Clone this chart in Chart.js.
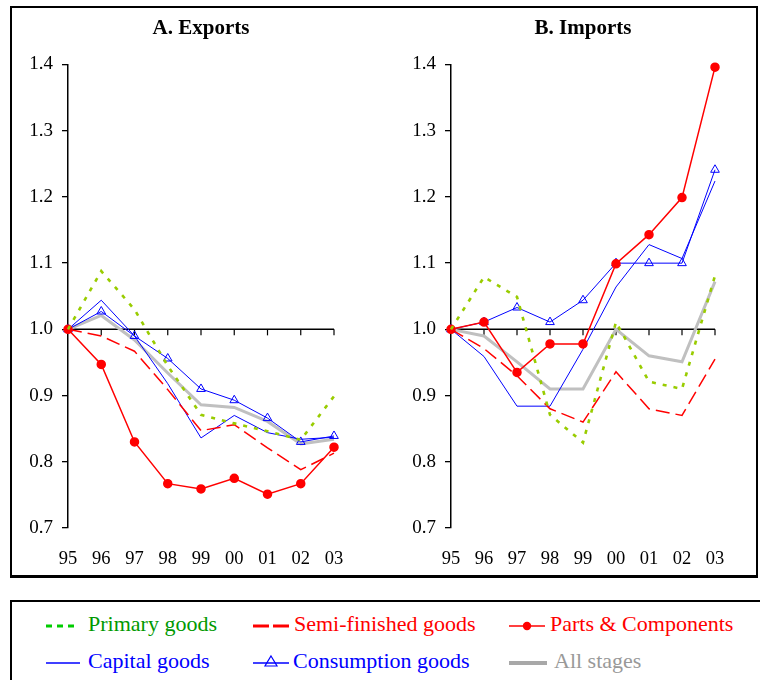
<!DOCTYPE html>
<html><head><meta charset="utf-8">
<script src="https://cdn.jsdelivr.net/npm/chart.js@4"></script>
<style>
html,body{margin:0;padding:0;background:#fff}
body{width:760px;height:680px;overflow:hidden;position:relative;font-family:"Liberation Serif","Times New Roman",serif}
#frame{position:absolute;left:10px;top:6px;width:748px;height:572px;box-sizing:border-box;border:2px solid #000;border-bottom:3px solid #000}
canvas{position:absolute;top:8px}
#cExp{left:12px}
#cImp{left:383px}
#legend{position:absolute;left:10px;top:600px;width:760px;height:100px;box-sizing:border-box;border-top:2px solid #000;border-left:2px solid #000}
.sym{position:absolute}
.lbl{position:absolute;font-size:22px;line-height:26px;white-space:nowrap}
</style></head>
<body>
<div id="frame"></div>
<canvas id="cExp" width="371" height="566"></canvas>
<canvas id="cImp" width="371" height="566"></canvas>
<div id="legend"></div>
<script>
// ---- data ----
const years = ['95','96','97','98','99','00','01','02','03'];
const seriesNames = ['Primary goods','Semi-finished goods','Parts & Components','Capital goods','Consumption goods','All stages'];
const yMin = 0.7, yMax = 1.4, yStep = 0.1, baseValue = 1.0;

const expPrimary     = [1.00, 1.088, 1.03, 0.945, 0.871, 0.858, 0.846, 0.833, 0.899];
const expSemi        = [1.00, 0.990, 0.967, 0.909, 0.847, 0.856, 0.821, 0.788, 0.813];
const expParts       = [1.00, 0.947, 0.830, 0.767, 0.759, 0.775, 0.751, 0.767, 0.822];
const expCapital     = [1.00, 1.044, 0.990, 0.918, 0.836, 0.870, 0.844, 0.834, 0.837];
const expConsumption = [1.00, 1.027, 0.990, 0.956, 0.910, 0.893, 0.866, 0.830, 0.839];
const expAll         = [1.00, 1.021, 0.984, 0.934, 0.886, 0.882, 0.861, 0.827, 0.834];

const impPrimary     = [1.00, 1.079, 1.049, 0.871, 0.829, 1.011, 0.921, 0.910, 1.081];
const impSemi        = [1.00, 0.971, 0.930, 0.880, 0.860, 0.936, 0.880, 0.870, 0.955];
const impParts       = [1.00, 1.011, 0.935, 0.978, 0.978, 1.099, 1.143, 1.199, 1.396];
const impCapital     = [1.00, 0.959, 0.884, 0.884, 0.970, 1.064, 1.128, 1.107, 1.224];
const impConsumption = [1.00, 1.011, 1.033, 1.011, 1.044, 1.100, 1.100, 1.100, 1.241];
const impAll         = [1.00, 0.990, 0.951, 0.910, 0.910, 1.000, 0.960, 0.951, 1.072];

// ---- styles ----
const styles = [
  {borderColor:'#99cc00', borderWidth:2.6, borderDash:[4,7], pointRadius:0},
  {borderColor:'#ff0000', borderWidth:1.5, borderDash:[14,6], pointRadius:0},
  {borderColor:'#ff0000', borderWidth:1.5, pointRadius:4, pointStyle:'circle', pointBackgroundColor:'#ff0000', pointBorderColor:'#ff0000'},
  {borderColor:'#0000ff', borderWidth:1, pointRadius:0},
  {borderColor:'#0000ff', borderWidth:1, pointRadius:5, pointStyle:'triangle', pointBackgroundColor:'rgba(0,0,0,0)', pointBorderColor:'#0000ff', pointBorderWidth:1},
  {borderColor:'#c0c0c0', borderWidth:3, pointRadius:0}
];

const baseLinePlugin = {
  id:'baseLine',
  beforeDatasetsDraw(chart){
    const xs = chart.scales.x, ys = chart.scales.y, ctx = chart.ctx;
    const y = ys.getPixelForValue(baseValue);
    const x0 = xs.getPixelForValue(0), x1 = xs.getPixelForValue(years.length-1);
    ctx.save();
    ctx.strokeStyle = '#000'; ctx.lineWidth = 1.5;
    ctx.beginPath(); ctx.moveTo(x0, y); ctx.lineTo(x1, y); ctx.stroke();
    ctx.lineWidth = 1.2;
    for (let i = 1; i < years.length; i++) {
      const x = xs.getPixelForValue(i);
      ctx.beginPath(); ctx.moveTo(x, y); ctx.lineTo(x, y + 6); ctx.stroke();
    }
    ctx.restore();
  }
};

function makeChart(id, title, seriesData, padL, padR) {
  const datasets = seriesData.map((d, i) => Object.assign({
    label: seriesNames[i], data: d, tension: 0, fill: false, clip: false
  }, styles[i]));
  return new Chart(document.getElementById(id), {
    type: 'line',
    data: { labels: years, datasets },
    plugins: [baseLinePlugin],
    options: {
      responsive: false, animation: false, devicePixelRatio: 1,
      layout: { padding: { left: padL, right: padR, top: 0, bottom: 0 } },
      plugins: {
        legend: { display: false }, tooltip: { enabled: false },
        title: { display: true, text: title, fullSize: false, color: '#000',
          font: { family: 'Liberation Serif', size: 21, weight: 'bold' },
          padding: { top: 8.4, bottom: 22.9 } }
      },
      scales: {
        x: { type: 'category', offset: false,
          grid: { display: false }, border: { display: false },
          ticks: { color: '#000', padding: 12, maxRotation: 0, autoSkip: false,
            font: { family: 'Liberation Serif', size: 18.5 } },
          afterFit: s => { s.height = 46; } },
        y: { min: yMin, max: yMax,
          border: { display: true, color: '#000', width: 1.5 },
          grid: { drawOnChartArea: false, drawTicks: true, tickLength: 6, color: '#000', lineWidth: 1.3 },
          ticks: { stepSize: yStep, color: '#000', padding: 9,
            font: { family: 'Liberation Serif', size: 19 },
            callback: v => Number(v).toFixed(1) },
          afterFit: s => { s.width = 50; } }
      }
    }
  });
}

makeChart('cExp', 'A. Exports', [expPrimary, expSemi, expParts, expCapital, expConsumption, expAll], 6, 49);
makeChart('cImp', 'B. Imports', [impPrimary, impSemi, impParts, impCapital, impConsumption, impAll], 18, 39);

// ---- legend ----
const legendColors = ['#009900','#ff0000','#ff0000','#0000ff','#0000ff','#999999'];
const legendPos = [
  {sx:44, tx:86, cy:624}, {sx:251, tx:292, cy:624}, {sx:507, tx:548, cy:624},
  {sx:44, tx:86, cy:661}, {sx:251, tx:291, cy:661}, {sx:507, tx:552, cy:661}
];
const symSvg = [
  '<line x1="0" y1="10" x2="30" y2="10" stroke="#00cc00" stroke-width="3" stroke-dasharray="6,5"/>',
  '<line x1="0" y1="10" x2="36" y2="10" stroke="#ff0000" stroke-width="3" stroke-dasharray="16,4"/>',
  '<line x1="0" y1="10" x2="36" y2="10" stroke="#ff0000" stroke-width="1.3"/><circle cx="18" cy="10" r="4.2" fill="#ff0000"/>',
  '<line x1="0" y1="10" x2="34" y2="10" stroke="#0000ff" stroke-width="1.3"/>',
  '<line x1="0" y1="10" x2="36" y2="10" stroke="#0000ff" stroke-width="1.3"/><polygon points="18,3 24,13 12,13" fill="none" stroke="#0000ff" stroke-width="1.2"/>',
  '<line x1="0" y1="10" x2="38" y2="10" stroke="#a8a8a8" stroke-width="4"/>'
];
const lg = document.getElementById('legend');
seriesNames.forEach((name, i) => {
  const p = legendPos[i];
  const s = document.createElement('div');
  s.className = 'sym';
  s.style.left = (p.sx - 10) + 'px'; s.style.top = (p.cy - 600 - 10) + 'px';
  s.innerHTML = '<svg width="40" height="20" xmlns="http://www.w3.org/2000/svg">' + symSvg[i] + '</svg>';
  lg.appendChild(s);
  const t = document.createElement('div');
  t.className = 'lbl';
  t.style.left = (p.tx - 10) + 'px'; t.style.top = (p.cy - 600 - 15) + 'px';
  t.style.color = legendColors[i];
  t.textContent = name;
  lg.appendChild(t);
});
</script>
</body></html>
